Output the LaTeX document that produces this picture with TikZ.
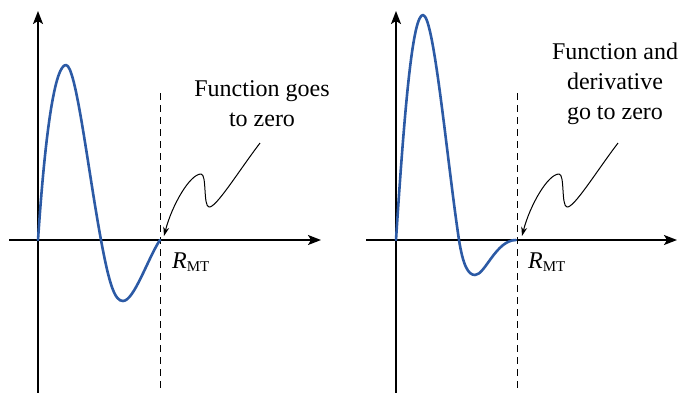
\documentclass[tikz,border=0pt]{standalone}
\usepackage{fontspec}
\setmainfont{LiberationSerif}[Extension=.ttf,UprightFont=*-Regular,ItalicFont=*-Italic,BoldFont=*-Bold,BoldItalicFont=*-BoldItalic]
\usetikzlibrary{arrows.meta}
\definecolor{curveblue}{RGB}{44,90,165}
\tikzset{
  axis/.style={line width=1.6pt,-{Stealth[length=13pt,width=10pt,inset=3pt]}},
  wave/.style={curveblue,line width=2.6pt,line cap=round,line join=round},
  guide/.style={line width=0.8pt,dash pattern=on 7pt off 5pt},
  pointer/.style={line width=1pt,-{Stealth[length=9pt,width=6pt]}},
  lbl/.style={font=\rmfamily\fontsize{24}{30}\selectfont,align=center,inner sep=0pt},
  rlbl/.style={font=\rmfamily\fontsize{24}{30}\selectfont,inner sep=0pt,anchor=base west}
}
\begin{document}
\begin{tikzpicture}[x=1pt,y=-1pt]
\useasboundingbox (0,0) rectangle (683,392);
% ---------- left panel ----------
\coordinate (yb1) at (38,394);
\coordinate (yt1) at (38,11);
\coordinate (xl1) at (9,240);
\coordinate (xr1) at (321,240);
\coordinate (dt1) at (160,93);
\coordinate (db1) at (160,392);
\draw[guide] (dt1) -- (db1);
\draw[axis] (yb1) -- (yt1);
\draw[axis] (xl1) -- (xr1);
\coordinate (o1) at (38,240);
\coordinate (p1) at (66,65);
\coordinate (z1) at (101,240);
\coordinate (m1) at (123,301);
\coordinate (e1) at (160,240);
\draw[wave] (o1) .. controls (46,120) and (56,65) .. (p1)
  .. controls (76,65) and (88,170) .. (z1)
  .. controls (109.5,286) and (115,301) .. (m1)
  .. controls (134,301) and (148,258) .. (e1);
\node[lbl] (t1) at (262,104) {Function goes\\to zero};
\node[rlbl] (r1) at (172,268) {\textit{R}\raisebox{-3pt}{\fontsize{15}{15}\selectfont MT}};
\coordinate (s1) at (260,143);
\coordinate (h1) at (209,207);
\coordinate (k1) at (201,174);
\coordinate (a1) at (164,236);
\draw[pointer] (s1) .. controls (238,172) and (216,208) .. (h1)
  .. controls (203,206) and (207,174) .. (k1)
  .. controls (190,174) and (172,205) .. (a1);
% ---------- right panel ----------
\coordinate (yb2) at (396,394);
\coordinate (yt2) at (396,11);
\coordinate (xl2) at (366,240);
\coordinate (xr2) at (677,240);
\coordinate (dt2) at (517,93);
\coordinate (db2) at (517,392);
\draw[guide] (dt2) -- (db2);
\draw[axis] (yb2) -- (yt2);
\draw[axis] (xl2) -- (xr2);
\coordinate (o2) at (396,240);
\coordinate (p2) at (423,15);
\coordinate (z2) at (459,240);
\coordinate (m2) at (475,275);
\coordinate (e2) at (516,240);
\draw[wave] (o2) .. controls (405,100) and (413,15) .. (p2)
  .. controls (434,15) and (447,160) .. (z2)
  .. controls (463,265) and (468,275) .. (m2)
  .. controls (485,275) and (496,240) .. (e2);
\node[lbl] (t2) at (615,84) {Function and\\derivative\\go to zero};
\node[rlbl] (r2) at (528,268) {\textit{R}\raisebox{-3pt}{\fontsize{15}{15}\selectfont MT}};
\coordinate (s2) at (618,143);
\coordinate (h2) at (567,207);
\coordinate (k2) at (559,174);
\coordinate (a2) at (522,236);
\draw[pointer] (s2) .. controls (596,172) and (574,208) .. (h2)
  .. controls (561,206) and (565,174) .. (k2)
  .. controls (548,174) and (530,205) .. (a2);
\end{tikzpicture}
\end{document}
